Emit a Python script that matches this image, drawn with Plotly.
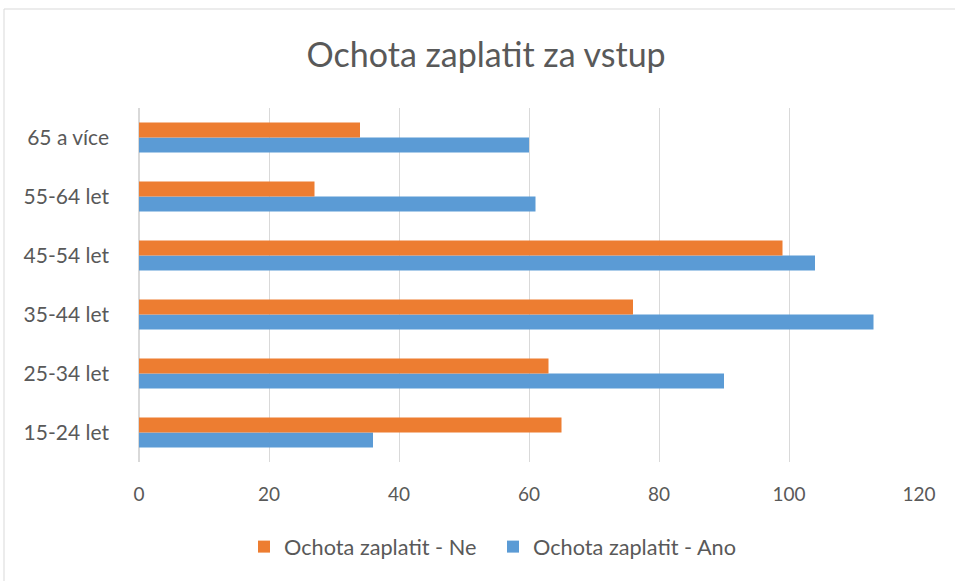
import plotly.graph_objects as go

categories = ["15-24 let", "25-34 let", "35-44 let", "45-54 let", "55-64 let", "65 a více"]
ano = [36, 90, 113, 104, 61, 60]
ne = [65, 63, 76, 99, 27, 34]
x_ticks = [0, 20, 40, 60, 80, 100, 120]

font_family = "Lato, Open Sans, sans-serif"
grey_text = "#595959"

fig = go.Figure()
fig.add_trace(go.Bar(y=categories, x=ano, orientation="h", name="Ochota zaplatit - Ano",
                     marker=dict(color="#5B9BD5", line=dict(width=0))))
fig.add_trace(go.Bar(y=categories, x=ne, orientation="h", name="Ochota zaplatit - Ne",
                     marker=dict(color="#ED7D31", line=dict(width=0))))

fig.update_layout(
    width=955, height=581,
    barmode="group", bargap=0.49, bargroupgap=0,
    paper_bgcolor="white", plot_bgcolor="white",
    margin=dict(l=139, r=36, t=108, b=119),
    font=dict(family=font_family, color=grey_text, size=20),
    title=dict(text="Ochota zaplatit za vstup", x=0.509, xref="container", xanchor="center",
               y=1 - 55 / 581, yref="container", yanchor="middle",
               font=dict(size=34, color=grey_text)),
    xaxis=dict(range=[0, 120], tickvals=x_ticks, showgrid=True, gridcolor="#d9d9d9", gridwidth=1,
               zeroline=True, zerolinecolor="#d9d9d9", showline=False, ticks="",
               ticklabelstandoff=19, tickfont=dict(size=19, color=grey_text)),
    yaxis=dict(showgrid=False, showline=False, zeroline=False, ticks="",
               ticklabelstandoff=29, tickfont=dict(size=21, color=grey_text)),
    legend=dict(orientation="h", traceorder="reversed", x=(493 - 139) / 780, xanchor="center",
                y=(462 - 547) / 354, yanchor="middle", font=dict(size=21.7, color=grey_text),
                itemwidth=30, entrywidth=204),
    showlegend=True,
)

# outer chart border (only top and left edges fall inside the picture)
fig.add_shape(type="rect", xref="paper", yref="paper",
              x0=(4 - 139) / 780, x1=1.2, y0=-0.5, y1=(462 - 9) / 354,
              line=dict(color="#d9d9d9", width=1), layer="below")

fig.write_html("out.html", config={"displayModeBar": False},
               post_script="document.body.style.margin='0';")
